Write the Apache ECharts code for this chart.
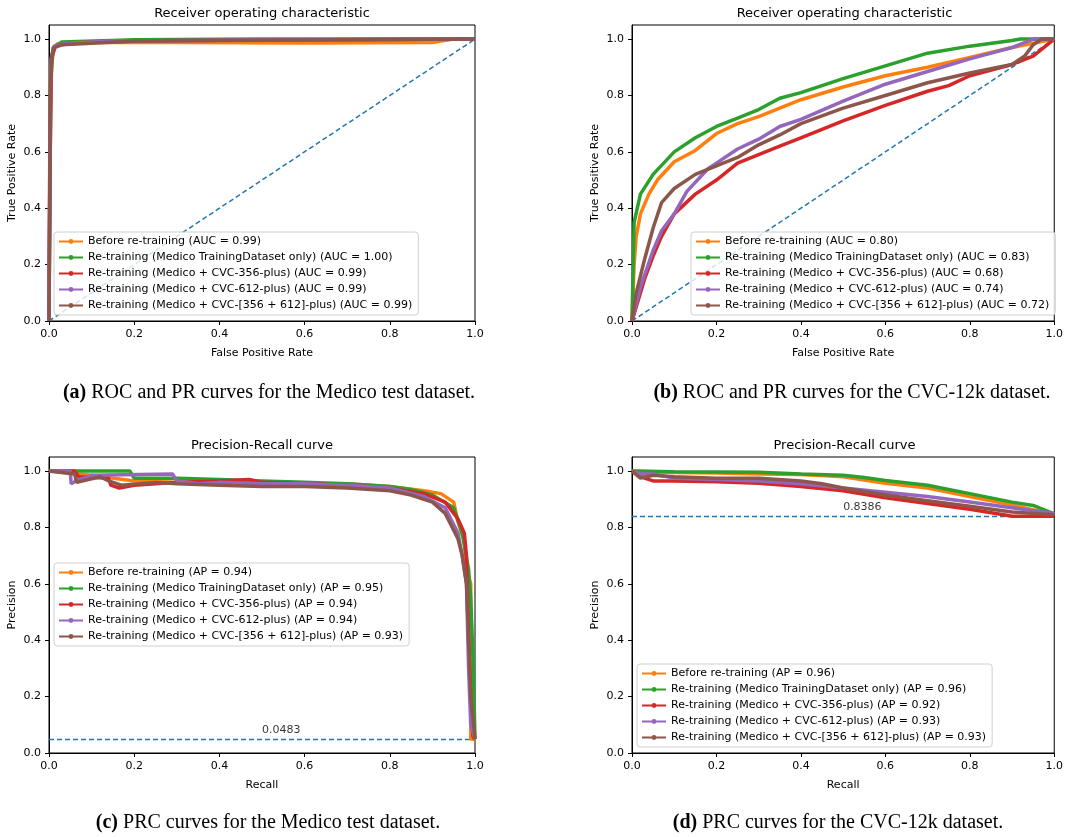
<!DOCTYPE html>
<html>
<head>
<meta charset="utf-8">
<script src="https://cdn.jsdelivr.net/npm/echarts@6/dist/echarts.min.js"></script>
<style>html,body{margin:0;padding:0;background:#fff}#chart{width:1066px;height:837px}</style>
</head>
<body>
<div id="chart"></div>
<script>
// ROC / PR curves, four panels.
const TICKS = [0, 0.2, 0.4, 0.6, 0.8, 1.0];

// (a) ROC, Medico test set
const rocMedBefore = [[0,0],[0.002,0.6],[0.004,0.9],[0.01,0.97],[0.02,0.983],[0.1,0.988],[0.3,0.988],[0.6,0.986],[0.9,0.988],[0.95,1.0],[1,1]];
const rocMedOnly   = [[0,0],[0.002,0.4],[0.004,0.85],[0.01,0.97],[0.03,0.99],[0.2,0.998],[0.5,1.0],[1,1]];
const rocMed356    = [[0,0],[0.002,0.5],[0.006,0.93],[0.015,0.975],[0.05,0.985],[0.1,0.99],[0.3,0.995],[1,1]];
const rocMed612    = [[0,0],[0.002,0.7],[0.005,0.93],[0.012,0.975],[0.04,0.985],[0.15,0.993],[0.4,0.996],[1,1]];
const rocMedBoth   = [[0,0],[0.003,0.8],[0.006,0.94],[0.012,0.97],[0.03,0.98],[0.1,0.985],[0.2,0.993],[0.5,0.996],[1,1]];

// (b) ROC, CVC-12k
const rocCvcBefore = [[0,0],[0.005,0.2],[0.01,0.3],[0.02,0.38],[0.04,0.45],[0.06,0.5],[0.1,0.565],[0.15,0.605],[0.2,0.665],[0.25,0.7],[0.3,0.725],[0.4,0.785],[0.5,0.83],[0.6,0.87],[0.7,0.9],[0.8,0.935],[0.9,0.97],[0.95,0.985],[1,1]];
const rocCvcOnly   = [[0,0],[0.005,0.35],[0.02,0.45],[0.05,0.52],[0.1,0.6],[0.15,0.65],[0.2,0.69],[0.25,0.72],[0.3,0.75],[0.35,0.79],[0.4,0.81],[0.5,0.86],[0.6,0.905],[0.7,0.95],[0.8,0.975],[0.9,0.995],[0.92,1.0],[1,1]];
const rocCvc356    = [[0,0],[0.01,0.05],[0.03,0.15],[0.05,0.23],[0.07,0.3],[0.1,0.38],[0.15,0.45],[0.2,0.5],[0.25,0.56],[0.3,0.59],[0.35,0.62],[0.4,0.65],[0.5,0.71],[0.6,0.765],[0.7,0.815],[0.75,0.835],[0.8,0.87],[0.9,0.91],[0.95,0.94],[1,1]];
const rocCvc612    = [[0,0],[0.02,0.12],[0.05,0.25],[0.07,0.32],[0.1,0.38],[0.13,0.46],[0.18,0.54],[0.2,0.56],[0.25,0.61],[0.3,0.645],[0.35,0.69],[0.4,0.715],[0.5,0.78],[0.6,0.84],[0.7,0.885],[0.8,0.93],[0.9,0.97],[0.95,1.0],[1,1]];
const rocCvcBoth   = [[0,0],[0.01,0.1],[0.03,0.22],[0.05,0.33],[0.07,0.42],[0.1,0.47],[0.15,0.52],[0.2,0.55],[0.25,0.58],[0.3,0.625],[0.35,0.66],[0.4,0.7],[0.5,0.755],[0.6,0.8],[0.7,0.845],[0.8,0.88],[0.9,0.91],[0.93,0.94],[0.95,0.98],[0.97,1.0],[1,1]];

// (c) PR, Medico test set
const prMedBefore = [[0,1.0],[0.1,0.985],[0.2,0.965],[0.3,0.96],[0.4,0.955],[0.5,0.955],[0.6,0.955],[0.7,0.955],[0.8,0.945],[0.88,0.93],[0.92,0.92],[0.95,0.89],[0.96,0.82],[0.975,0.75],[0.98,0.65],[0.99,0.6],[0.99,0.2],[0.99,0.05],[1.0,0.048]];
const prMedOnly   = [[0,1.0],[0.19,1.0],[0.2,0.975],[0.3,0.975],[0.4,0.97],[0.5,0.965],[0.6,0.96],[0.7,0.955],[0.8,0.945],[0.85,0.935],[0.9,0.915],[0.95,0.87],[0.97,0.78],[0.985,0.65],[0.99,0.55],[0.995,0.35],[1.0,0.05]];
const prMed356    = [[0,1.0],[0.06,1.0],[0.07,0.98],[0.14,0.975],[0.145,0.95],[0.165,0.94],[0.2,0.95],[0.3,0.96],[0.4,0.965],[0.47,0.97],[0.5,0.96],[0.6,0.955],[0.7,0.95],[0.8,0.94],[0.88,0.92],[0.93,0.89],[0.96,0.83],[0.975,0.78],[0.98,0.7],[0.985,0.4],[0.99,0.2],[0.995,0.06],[1.0,0.048]];
const prMed612    = [[0,1.0],[0.05,1.0],[0.052,0.955],[0.07,0.97],[0.1,0.985],[0.29,0.99],[0.3,0.965],[0.35,0.955],[0.4,0.96],[0.5,0.955],[0.6,0.955],[0.7,0.95],[0.8,0.94],[0.88,0.91],[0.93,0.87],[0.96,0.78],[0.97,0.7],[0.98,0.6],[0.985,0.3],[0.99,0.1],[1.0,0.048]];
const prMedBoth   = [[0,1.0],[0.06,0.99],[0.065,0.96],[0.12,0.98],[0.14,0.965],[0.17,0.95],[0.25,0.96],[0.3,0.955],[0.4,0.95],[0.5,0.945],[0.6,0.945],[0.7,0.94],[0.8,0.93],[0.85,0.915],[0.9,0.89],[0.93,0.85],[0.96,0.76],[0.97,0.7],[0.98,0.6],[0.985,0.4],[0.99,0.2],[1.0,0.05]];

// (d) PR, CVC-12k
const prCvcBefore = [[0,1.0],[0.1,0.995],[0.2,0.993],[0.3,0.99],[0.4,0.988],[0.5,0.98],[0.6,0.957],[0.7,0.94],[0.8,0.91],[0.9,0.88],[1.0,0.845]];
const prCvcOnly   = [[0,1.0],[0.1,0.998],[0.2,0.997],[0.3,0.996],[0.4,0.99],[0.5,0.985],[0.55,0.977],[0.6,0.967],[0.7,0.95],[0.75,0.935],[0.8,0.92],[0.85,0.905],[0.9,0.89],[0.95,0.878],[1.0,0.848]];
const prCvc356    = [[0,1.0],[0.03,0.975],[0.05,0.965],[0.1,0.965],[0.2,0.962],[0.3,0.957],[0.4,0.945],[0.5,0.93],[0.6,0.905],[0.7,0.885],[0.8,0.865],[0.88,0.845],[0.9,0.84],[1.0,0.84]];
const prCvc612    = [[0,1.0],[0.02,0.99],[0.05,0.99],[0.1,0.975],[0.2,0.97],[0.3,0.965],[0.4,0.955],[0.5,0.94],[0.6,0.925],[0.7,0.91],[0.8,0.89],[0.9,0.87],[1.0,0.85]];
const prCvcBoth   = [[0,1.0],[0.02,0.975],[0.05,0.985],[0.1,0.98],[0.2,0.975],[0.3,0.975],[0.4,0.965],[0.45,0.955],[0.5,0.94],[0.6,0.915],[0.7,0.895],[0.8,0.875],[0.9,0.855],[1.0,0.845]];

const diagonal = [[0,0],[1,1]];
const baseMedico = 0.0483;
const baseCvc = 0.8386;

const namesA = ['Before re-training (AUC = 0.99)','Re-training (Medico TrainingDataset only) (AUC = 1.00)','Re-training (Medico + CVC-356-plus) (AUC = 0.99)','Re-training (Medico + CVC-612-plus) (AUC = 0.99)','Re-training (Medico + CVC-[356 + 612]-plus) (AUC = 0.99)'];
const namesB = ['Before re-training (AUC = 0.80)','Re-training (Medico TrainingDataset only) (AUC = 0.83)','Re-training (Medico + CVC-356-plus) (AUC = 0.68)','Re-training (Medico + CVC-612-plus) (AUC = 0.74)','Re-training (Medico + CVC-[356 + 612]-plus) (AUC = 0.72)'];
const namesC = ['Before re-training (AP = 0.94)','Re-training (Medico TrainingDataset only) (AP = 0.95)','Re-training (Medico + CVC-356-plus) (AP = 0.94)','Re-training (Medico + CVC-612-plus) (AP = 0.94)','Re-training (Medico + CVC-[356 + 612]-plus) (AP = 0.93)'];
const namesD = ['Before re-training (AP = 0.96)','Re-training (Medico TrainingDataset only) (AP = 0.96)','Re-training (Medico + CVC-356-plus) (AP = 0.92)','Re-training (Medico + CVC-612-plus) (AP = 0.93)','Re-training (Medico + CVC-[356 + 612]-plus) (AP = 0.93)'];

const COLORS = ['#ff7f0e', '#2ca02c', '#d62728', '#9467bd', '#8c564b'];
const REF = '#1f77b4';
const FONT = 'DejaVu Sans';

const panels = [
  { grid: { left: 49, top: 25, width: 426, height: 296 }, title: 'Receiver operating characteristic', xName: 'False Positive Rate', yName: 'True Positive Rate',
    names: namesA, curves: [rocMedBefore, rocMedOnly, rocMed356, rocMed612, rocMedBoth], ref: diagonal, legend: { left: 54, top: 232 } },
  { grid: { left: 632, top: 25, width: 425, height: 296 }, title: 'Receiver operating characteristic', xName: 'False Positive Rate', yName: 'True Positive Rate',
    names: namesB, curves: [rocCvcBefore, rocCvcOnly, rocCvc356, rocCvc612, rocCvcBoth], ref: diagonal, legend: { left: 691, top: 232 } },
  { grid: { left: 49, top: 457, width: 426, height: 296 }, title: 'Precision-Recall curve', xName: 'Recall', yName: 'Precision',
    names: namesC, curves: [prMedBefore, prMedOnly, prMed356, prMed612, prMedBoth], base: baseMedico, legend: { left: 54, top: 563 } },
  { grid: { left: 632, top: 457, width: 425, height: 296 }, title: 'Precision-Recall curve', xName: 'Recall', yName: 'Precision',
    names: namesD, curves: [prCvcBefore, prCvcOnly, prCvc356, prCvc612, prCvcBoth], base: baseCvc, legend: { left: 637, top: 664 } },
];

const captions = [
  { x: 269, y: 383, tag: '(a)', text: ' ROC and PR curves for the Medico test dataset.' },
  { x: 852, y: 383, tag: '(b)', text: ' ROC and PR curves for the CVC-12k dataset.' },
  { x: 268, y: 813, tag: '(c)', text: ' PRC curves for the Medico test dataset.' },
  { x: 838, y: 813, tag: '(d)', text: ' PRC curves for the CVC-12k dataset.' },
];

const option = { animation: false, backgroundColor: '#fff', grid: [], xAxis: [], yAxis: [], series: [], legend: [], title: [] };

panels.forEach((p, i) => {
  option.grid.push(Object.assign({ show: true, borderColor: '#000', borderWidth: 1, backgroundColor: '#fff' }, p.grid));
  const axisCommon = {
    gridIndex: i, type: 'value', min: 0, splitLine: { show: false },
    axisLine: { show: true, lineStyle: { color: '#000', width: 1 } },
    axisTick: { show: true, length: 4, lineStyle: { color: '#000' }, customValues: TICKS },
    axisLabel: { color: '#000', fontFamily: FONT, fontSize: 11, customValues: TICKS, formatter: v => v.toFixed(1) },
    nameLocation: 'middle', nameTextStyle: { color: '#000', fontFamily: FONT, fontSize: 11 },
  };
  option.xAxis.push(Object.assign({}, axisCommon, { max: 1, name: p.xName, nameGap: 27 }));
  option.yAxis.push(Object.assign({}, axisCommon, { max: 1.05, name: p.yName, nameGap: 31 }));
  option.title.push({ text: p.title, left: p.grid.left + p.grid.width / 2, top: p.grid.top - 18, textAlign: 'center', padding: 0,
    textStyle: { fontFamily: FONT, fontSize: 13, fontWeight: 'normal', color: '#000' } });

  // reference line: chance diagonal for ROC, positive-rate baseline for PR
  const refData = p.ref ? p.ref : [[0, p.base], [1, p.base]];
  option.series.push({ type: 'line', xAxisIndex: i, yAxisIndex: i, data: refData, showSymbol: false, symbol: 'none',
    lineStyle: { color: REF, width: 1.5, type: [5, 3] }, silent: true, z: 2 });
  if (p.base !== undefined) {
    option.series.push({ type: 'scatter', xAxisIndex: i, yAxisIndex: i, data: [[0.5, p.base]], symbolSize: 0, silent: true,
      label: { show: true, position: [0, -15], align: 'left', formatter: String(p.base), color: '#000', fontFamily: FONT, fontSize: 11 } });
  }

  p.curves.forEach((c, k) => {
    option.series.push({ type: 'line', name: p.names[k], xAxisIndex: i, yAxisIndex: i, data: c,
      symbol: 'circle', symbolSize: 4, showSymbol: false, color: COLORS[k],
      lineStyle: { width: 3.5, color: COLORS[k] }, z: 3 + k });
  });

  option.legend.push({ data: p.names, orient: 'vertical', left: p.legend.left, top: p.legend.top,
    itemWidth: 24, itemHeight: 6, itemGap: 3, padding: [3, 6, 3, 4],
    borderColor: '#d0d0d0', borderWidth: 1, borderRadius: 3, backgroundColor: 'rgba(255,255,255,0.8)',
    textStyle: { fontFamily: FONT, fontSize: 11, color: '#000', lineHeight: 13 }, selectedMode: false, z: 20 });
});

captions.forEach(c => {
  option.title.push({ text: '{b|' + c.tag + '}{n|' + c.text + '}', left: c.x, top: c.y, textAlign: 'center', padding: 0,
    textStyle: { fontWeight: 'normal', rich: {
      b: { fontFamily: 'Liberation Serif', fontSize: 20, fontWeight: 'bold', color: '#000' },
      n: { fontFamily: 'Liberation Serif', fontSize: 20, fontWeight: 'normal', color: '#000' } } } });
});

const chart = echarts.init(document.getElementById('chart'));
chart.setOption(option);
window.addEventListener('resize', () => chart.resize());
</script>
</body>
</html>
